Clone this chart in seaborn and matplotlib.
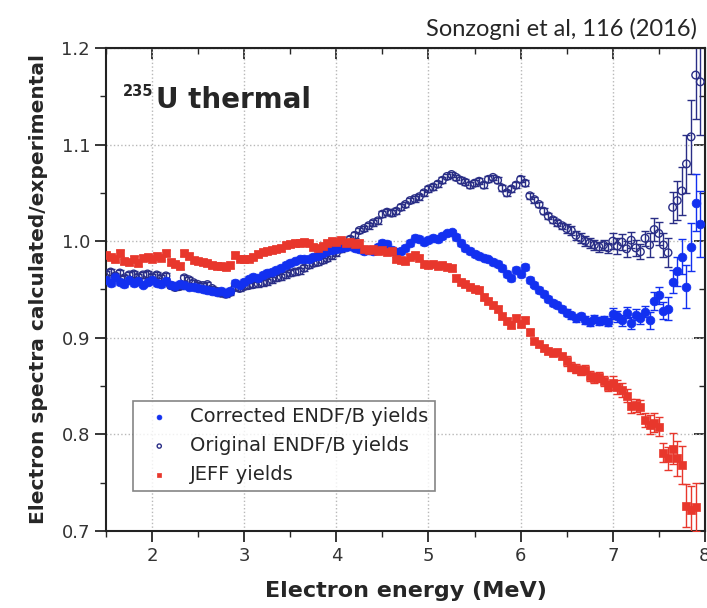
import numpy as np
import pandas as pd
import matplotlib
matplotlib.use("Agg")
import matplotlib.pyplot as plt
import seaborn as sns

# Energy grid (MeV), shared by the three series
energy = [1.50, 1.55, 1.60, 1.65, 1.70, 1.75, 1.80, 1.85, 1.90, 1.95,
          2.00, 2.05, 2.10, 2.15, 2.20, 2.25, 2.30, 2.35, 2.40, 2.45,
          2.50, 2.55, 2.60, 2.65, 2.70, 2.75, 2.80, 2.85, 2.90, 2.95,
          3.00, 3.05, 3.10, 3.15, 3.20, 3.25, 3.30, 3.35, 3.40, 3.45,
          3.50, 3.55, 3.60, 3.65, 3.70, 3.75, 3.80, 3.85, 3.90, 3.95,
          4.00, 4.05, 4.10, 4.15, 4.20, 4.25, 4.30, 4.35, 4.40, 4.45,
          4.50, 4.55, 4.60, 4.65, 4.70, 4.75, 4.80, 4.85, 4.90, 4.95,
          5.00, 5.05, 5.10, 5.15, 5.20, 5.25, 5.30, 5.35, 5.40, 5.45,
          5.50, 5.55, 5.60, 5.65, 5.70, 5.75, 5.80, 5.85, 5.90, 5.95,
          6.00, 6.05, 6.10, 6.15, 6.20, 6.25, 6.30, 6.35, 6.40, 6.45,
          6.50, 6.55, 6.60, 6.65, 6.70, 6.75, 6.80, 6.85, 6.90, 6.95,
          7.00, 7.05, 7.10, 7.15, 7.20, 7.25, 7.30, 7.35, 7.40, 7.45,
          7.50, 7.55, 7.60, 7.65, 7.70, 7.75, 7.80, 7.85, 7.90, 7.95]

# Corrected ENDF/B yields
corrected = [0.960, 0.957, 0.963, 0.958, 0.956, 0.960, 0.957, 0.959, 0.955, 0.958,
             0.960, 0.957, 0.956, 0.959, 0.955, 0.954, 0.956, 0.955, 0.953, 0.952,
             0.951, 0.950, 0.949, 0.948, 0.947, 0.948, 0.946, 0.948, 0.957, 0.955,
             0.958, 0.961, 0.963, 0.962, 0.965, 0.967, 0.968, 0.970, 0.972, 0.975,
             0.977, 0.979, 0.981, 0.982, 0.981, 0.984, 0.985, 0.988, 0.990, 0.991,
             0.992, 0.993, 0.994, 0.995, 0.993, 0.992, 0.990, 0.991, 0.990, 0.994,
             0.998, 0.997, 0.991, 0.989, 0.990, 0.993, 0.998, 1.003, 1.002, 0.999,
             1.001, 1.003, 1.002, 1.005, 1.008, 1.009, 1.004, 0.998, 0.993, 0.990,
             0.987, 0.985, 0.983, 0.981, 0.978, 0.976, 0.972, 0.966, 0.962, 0.970,
             0.966, 0.973, 0.960, 0.955, 0.949, 0.945, 0.940, 0.936, 0.934, 0.930,
             0.926, 0.923, 0.920, 0.922, 0.918, 0.916, 0.919, 0.917, 0.918, 0.916,
             0.925, 0.922, 0.918, 0.926, 0.915, 0.924, 0.920, 0.927, 0.918, 0.938,
             0.944, 0.928, 0.930, 0.958, 0.969, 0.984, 0.953, 0.994, 1.040, 1.018]
corrected_err = [0.003] * 100 + [0.004] * 10 + [0.006] * 8 + [0.009] * 4 + \
                [0.012, 0.012, 0.015, 0.018, 0.022, 0.025, 0.030, 0.034]

# Original ENDF/B yields
original = [0.966, 0.968, 0.964, 0.967, 0.962, 0.965, 0.966, 0.963, 0.965, 0.966,
            0.963, 0.965, 0.962, 0.964, 0.954, 0.952, 0.953, 0.962, 0.960, 0.957,
            0.955, 0.954, 0.955, 0.951, 0.948, 0.946, 0.945, 0.947, 0.952, 0.951,
            0.953, 0.954, 0.955, 0.956, 0.957, 0.958, 0.960, 0.962, 0.963, 0.965,
            0.967, 0.968, 0.969, 0.972, 0.975, 0.977, 0.978, 0.980, 0.982, 0.985,
            0.988, 0.992, 0.996, 1.002, 1.006, 1.011, 1.013, 1.016, 1.019, 1.021,
            1.028, 1.030, 1.029, 1.031, 1.035, 1.038, 1.042, 1.044, 1.046, 1.050,
            1.054, 1.056, 1.059, 1.063, 1.067, 1.069, 1.066, 1.063, 1.061, 1.058,
            1.060, 1.062, 1.058, 1.064, 1.066, 1.063, 1.055, 1.050, 1.054, 1.058,
            1.064, 1.060, 1.047, 1.043, 1.038, 1.031, 1.026, 1.022, 1.019, 1.016,
            1.013, 1.011, 1.006, 1.003, 1.000, 0.998, 0.996, 0.994, 0.996, 0.993,
            1.000, 0.995, 0.999, 0.992, 1.001, 0.993, 0.989, 1.003, 0.996, 1.012,
            1.008, 0.996, 0.988, 1.035, 1.042, 1.052, 1.080, 1.108, 1.172, 1.165]
original_err = [0.003] * 100 + [0.005] * 10 + [0.008] * 8 + [0.012] * 4 + \
               [0.015, 0.016, 0.020, 0.025, 0.030, 0.038, 0.045, 0.055]

# JEFF yields
jeff = [0.986, 0.984, 0.981, 0.988, 0.979, 0.978, 0.982, 0.977, 0.983, 0.984,
        0.982, 0.985, 0.983, 0.988, 0.978, 0.976, 0.974, 0.988, 0.985, 0.980,
        0.979, 0.978, 0.977, 0.975, 0.974, 0.974, 0.973, 0.975, 0.986, 0.982,
        0.981, 0.982, 0.984, 0.987, 0.989, 0.990, 0.991, 0.992, 0.993, 0.996,
        0.997, 0.998, 0.998, 0.999, 0.998, 0.994, 0.993, 0.995, 0.998, 1.000,
        0.999, 1.001, 0.998, 0.999, 0.997, 0.998, 0.992, 0.991, 0.992, 0.990,
        0.991, 0.989, 0.990, 0.981, 0.980, 0.979, 0.984, 0.986, 0.983, 0.976,
        0.975, 0.976, 0.974, 0.975, 0.973, 0.972, 0.962, 0.958, 0.956, 0.953,
        0.950, 0.949, 0.942, 0.938, 0.934, 0.930, 0.922, 0.917, 0.913, 0.920,
        0.914, 0.918, 0.906, 0.897, 0.893, 0.889, 0.886, 0.884, 0.885, 0.881,
        0.876, 0.870, 0.868, 0.866, 0.867, 0.860, 0.858, 0.859, 0.855, 0.850,
        0.853, 0.849, 0.846, 0.840, 0.829, 0.830, 0.828, 0.815, 0.810, 0.812,
        0.808, 0.781, 0.775, 0.785, 0.775, 0.768, 0.726, 0.722, 0.725, np.nan]
jeff_err = [0.003] * 100 + [0.005] * 10 + [0.007] * 8 + [0.010] * 4 + \
           [0.012, 0.016, 0.018, 0.020, 0.022, 0.024, 0.025, 0.026]

col_corr = "#1230f0"
col_orig = "#2a2e86"
col_jeff = "#e8372c"

sns.set_style("ticks")
plt.rcParams["font.family"] = ["DejaVu Sans"]

fig = plt.figure(figsize=(7.07, 6.08), dpi=100)
ax = fig.add_axes([0.150, 0.127, 0.847, 0.794])

df = pd.DataFrame({"energy": energy, "corrected": corrected,
                   "original": original, "jeff": jeff})

# error bars first, markers on top
ax.errorbar(energy, original, yerr=original_err, fmt="none", ecolor=col_orig,
            elinewidth=1.0, capsize=3, capthick=1.0, zorder=2)
ax.errorbar(energy, corrected, yerr=corrected_err, fmt="none", ecolor=col_corr,
            elinewidth=1.0, capsize=3, capthick=1.0, zorder=3)
ax.errorbar(energy, jeff, yerr=jeff_err, fmt="none", ecolor=col_jeff,
            elinewidth=1.0, capsize=3, capthick=1.0, zorder=4)

sns.scatterplot(data=df, x="energy", y="original", ax=ax, marker="o", s=30,
                facecolor="none", edgecolor=col_orig, linewidth=1.0,
                label="Original ENDF/B yields", zorder=5)
sns.scatterplot(data=df, x="energy", y="corrected", ax=ax, marker="o", s=40,
                color=col_corr, edgecolor=col_corr, linewidth=0.5,
                label="Corrected ENDF/B yields", zorder=6)
sns.scatterplot(data=df, x="energy", y="jeff", ax=ax, marker="s", s=36,
                color=col_jeff, edgecolor=col_jeff, linewidth=0.5,
                label="JEFF yields", zorder=7)

ax.set_xlim(1.5, 8.0)
ax.set_ylim(0.7, 1.2)
ax.set_xticks([2, 3, 4, 5, 6, 7, 8])
ax.set_xticks(np.arange(1.5, 8.01, 0.5), minor=True)
ax.set_yticks([0.7, 0.8, 0.9, 1.0, 1.1, 1.2])
ax.set_yticks(np.arange(0.7, 1.201, 0.05), minor=True)
ax.set_yticklabels(["0.7", "0.8", "0.9", "1.0", "1.1", "1.2"])
ax.grid(True, which="major", linestyle=":", color="#b8b8b8", linewidth=1.0)
ax.tick_params(which="major", direction="out", length=8, width=1.3,
               labelsize=13, labelcolor="#333333")
ax.tick_params(which="minor", direction="out", length=4, width=1.0)
for sp in ax.spines.values():
    sp.set_linewidth(1.5)
    sp.set_color("#222222")

# inward ticks on top and right sides
top = ax.secondary_xaxis("top")
top.set_xticks([2, 3, 4, 5, 6, 7, 8])
top.set_xticks(np.arange(1.5, 8.01, 0.5), minor=True)
top.tick_params(which="major", direction="in", length=8, width=1.3, labeltop=False)
top.tick_params(which="minor", direction="in", length=4, width=1.0)
right = ax.secondary_yaxis("right")
right.set_yticks([0.7, 0.8, 0.9, 1.0, 1.1, 1.2])
right.set_yticks(np.arange(0.7, 1.201, 0.05), minor=True)
right.tick_params(which="major", direction="in", length=8, width=1.3, labelright=False)
right.tick_params(which="minor", direction="in", length=4, width=1.0)

ax.set_xlabel("Electron energy (MeV)", fontsize=16, fontweight="bold", labelpad=12)
ax.set_ylabel("Electron spectra calculated/experimental", fontsize=14.5,
              fontweight="bold", labelpad=10)

# isotope label: small superscript mass number, then the big text
ax.text(0.028, 0.9, "235", transform=ax.transAxes,
        fontsize=10.5, fontweight="bold", ha="left", va="baseline")
ax.text(0.083, 0.876, "U thermal", transform=ax.transAxes,
        fontsize=20, fontweight="bold", ha="left", va="baseline")

fig.text(0.986, 0.952, "Sonzogni et al, 116 (2016)", fontsize=17,
         family="Lato", ha="right", va="center")

handles, labels = ax.get_legend_handles_labels()
order = [1, 0, 2]
leg = ax.legend([handles[i] for i in order], [labels[i] for i in order],
                loc="lower left", bbox_to_anchor=(0.045, 0.083), borderaxespad=0,
                fontsize=14, markerscale=0.55, frameon=True, fancybox=False,
                handletextpad=0.6, labelspacing=0.5, borderpad=0.35)
leg.get_frame().set_edgecolor("#666666")
leg.get_frame().set_linewidth(1.2)

fig.savefig("out.png", dpi=100)
